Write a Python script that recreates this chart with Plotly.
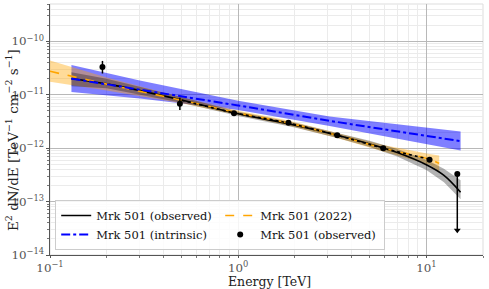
import plotly.graph_objects as go

# ---- data ----
# observed fit (black)
obs_E = [0.13, 0.2, 0.5, 1.0, 2.0, 3.36, 5.0, 7.0, 10.0, 12.4, 15.2]
obs_F = [2.0e-11, 1.6e-11, 8.0e-12, 4.4e-12, 2.7e-12, 1.75e-12, 1.2e-12, 8.3e-13, 4.9e-13, 3.1e-13, 1.5e-13]
obs_lo = [1.45e-11, 1.32e-11, 7.1e-12, 4.0e-12, 2.45e-12, 1.55e-12, 1.05e-12, 7.0e-13, 3.9e-13, 2.3e-13, 1.1e-13]
obs_hi = [2.65e-11, 2.0e-11, 9.1e-12, 4.8e-12, 3.0e-12, 1.95e-12, 1.38e-12, 9.6e-13, 6.1e-13, 4.1e-13, 2.5e-13]

# intrinsic power law (blue)
int_E = [0.13, 0.3, 1.0, 3.06, 15.2]
int_F = [2.0e-11, 1.25e-11, 6.3e-12, 3.25e-12, 1.35e-12]
int_lo = [1.12e-11, 8.5e-12, 5.2e-12, 2.6e-12, 0.9e-12]
int_hi = [3.6e-11, 1.85e-11, 7.7e-12, 3.9e-12, 2.05e-12]

# 2022 model (orange)
ref_E = [0.1, 0.2, 0.5, 1.0, 1.85, 3.36, 5.9, 10.4, 11.7]
ref_F = [2.75e-11, 1.58e-11, 7.9e-12, 4.55e-12, 2.95e-12, 1.74e-12, 1.0e-12, 6.2e-13, 5.2e-13]
ref_lo = [1.75e-11, 1.2e-11, 6.9e-12, 4.15e-12, 2.65e-12, 1.55e-12, 0.87e-12, 4.9e-13, 3.7e-13]
ref_hi = [4.4e-11, 2.1e-11, 9.0e-12, 5.0e-12, 3.3e-12, 1.95e-12, 1.15e-12, 7.8e-13, 7.3e-13]

# dotted black reference curve
dot_E = [0.5, 0.95, 1.85, 3.36, 5.9, 10.4]
dot_F = [7.9e-12, 4.6e-12, 2.95e-12, 1.74e-12, 1.0e-12, 6.2e-13]

# flux points (observed)
pt_E = [0.19, 0.49, 0.95, 1.85, 3.36, 5.9, 10.4, 14.6]
pt_F = [3.3e-11, 6.8e-12, 4.5e-12, 3.0e-12, 1.74e-12, 1.0e-12, 6.1e-13, 3.3e-13]
pt_up = [1.0e-11, 2.0e-12, 3.0e-13, 1.5e-13, 1.0e-13, 6e-14, 4e-14, 0.0]
pt_dn = [0.8e-11, 1.6e-12, 3.0e-13, 1.5e-13, 1.0e-13, 6e-14, 4e-14, 3.0e-13]
ul_E = [14.6]
ul_F = [2.9e-14]

# tick label aliases (matplotlib style 10^n)
x_alias = {"1": "10<sup>0</sup>", "10": "10<sup>1</sup>"}
x_title = "Energy [TeV]"
y_title = "E<sup>2</sup> dN/dE [TeV<sup>−1</sup> cm<sup>−2</sup> s<sup>−1</sup>]"

serif = "DejaVu Serif"
fig = go.Figure()

def band(x, lo, hi, color):
    fig.add_trace(go.Scatter(x=x + x[::-1], y=hi + lo[::-1], fill="toself",
                             fillcolor=color, line=dict(width=0), mode="lines",
                             showlegend=False, hoverinfo="skip"))

band(int_E, int_lo, int_hi, "rgba(0,0,255,0.5)")
band(ref_E, ref_lo, ref_hi, "rgba(255,165,0,0.4)")
band(obs_E, obs_lo, obs_hi, "rgba(0,0,0,0.3)")

fig.add_trace(go.Scatter(x=obs_E, y=obs_F, mode="lines", line=dict(color="black", width=1.6, shape="spline"),
                         name="Mrk 501 (observed)"))
fig.add_trace(go.Scatter(x=ref_E, y=ref_F, mode="lines", line=dict(color="orange", width=1.6, dash="dash", shape="spline"),
                         name="Mrk 501 (2022)"))
fig.add_trace(go.Scatter(x=int_E, y=int_F, mode="lines", line=dict(color="blue", width=2, dash="dashdot"),
                         name="Mrk 501 (intrinsic)"))
fig.add_trace(go.Scatter(x=dot_E, y=dot_F, mode="lines", line=dict(color="black", width=1.6, dash="dot", shape="spline"),
                         showlegend=False))
fig.add_trace(go.Scatter(x=pt_E, y=pt_F, mode="markers", marker=dict(color="black", size=6),
                         error_y=dict(type="data", symmetric=False, array=pt_up, arrayminus=pt_dn,
                                      color="black", thickness=1.5, width=0),
                         name="Mrk 501 (observed)"))
fig.add_trace(go.Scatter(x=ul_E, y=ul_F, mode="markers",
                         marker=dict(color="black", size=6, symbol="triangle-down"),
                         showlegend=False))

axis_common = dict(type="log", automargin=False, dtick=1, exponentformat="power", showexponent="all",
                   showgrid=True, gridcolor="#b8b8b8", gridwidth=1,
                   showline=True, linecolor="#555", linewidth=1.2,
                   ticks="outside", tickcolor="#555",
                   tickfont=dict(family=serif, size=9.5, color="#555"),
                   zeroline=False)

fig.update_xaxes(**axis_common, range=[-1, 1.301], labelalias=x_alias, ticklen=2,
                 minor=dict(showgrid=True, gridcolor="#ebebeb", ticks="outside", ticklen=1.5, tickcolor="#777"))
fig.update_yaxes(**axis_common, range=[-14, -9.301], ticklen=3,
                 minor=dict(showgrid=True, gridcolor="#ebebeb", ticks="outside", ticklen=2, tickcolor="#777"))

fig.add_shape(type="rect", xref="paper", yref="paper", x0=0, y0=0, x1=1, y1=1,
              line=dict(color="#dddddd", width=1), layer="below")

# axis titles as annotations (positioned like the matplotlib original)
fig.add_annotation(text=x_title, xref="paper", yref="paper", x=0.507, y=-0.105,
                   xanchor="center", yanchor="middle", showarrow=False,
                   font=dict(family=serif, size=12.5, color="#222"))
fig.add_annotation(text=y_title, xref="paper", yref="paper", x=-0.089, y=0.46,
                   xanchor="center", yanchor="middle", showarrow=False, textangle=-90,
                   font=dict(family=serif, size=13.5, color="#222"))

fig.update_layout(
    width=489, height=289,
    margin=dict(l=50, r=6, t=4, b=34),
    paper_bgcolor="white", plot_bgcolor="white",
    legend=dict(orientation="h", x=0.012, y=0.02, xanchor="left", yanchor="bottom",
                bgcolor="rgba(255,255,255,0.85)", bordercolor="#cccccc", borderwidth=1,
                font=dict(family=serif, size=11.5, color="#111"),
                entrywidth=119, entrywidthmode="pixels", itemwidth=30, tracegroupgap=0),
)

fig.write_html("out.html", config={"displayModeBar": False},
               post_script="document.body.style.margin='0';document.body.style.overflow='hidden';")
